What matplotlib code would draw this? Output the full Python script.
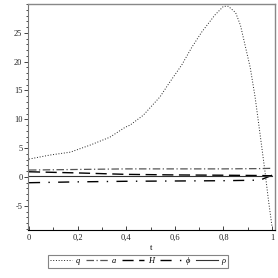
import matplotlib
matplotlib.use("Agg")
import matplotlib.pyplot as plt
from matplotlib.ticker import MultipleLocator, FuncFormatter

# ---- data ----
t_q = [0.0, 0.086, 0.17, 0.25, 0.333, 0.395, 0.416, 0.47, 0.539, 0.58, 0.628, 0.67, 0.71,
       0.765, 0.80, 0.82, 0.85, 0.87, 0.91, 0.93, 0.95, 0.97, 0.985, 1.0]
q   = [3.1, 3.8, 4.3, 5.5, 6.9, 8.6, 9.0, 10.7, 13.9, 16.5, 19.4, 22.5, 25.1,
       28.1, 29.6, 29.6, 28.5, 26.3, 19.0, 13.9, 7.6, 1.2, -4.0, -8.7]

t_s = [0.0, 0.2, 0.4, 0.6, 0.8, 0.95, 1.0]
a   = [1.2, 1.3, 1.4, 1.4, 1.4, 1.45, 1.5]
H   = [0.9, 0.7, 0.45, 0.35, 0.3, 0.25, 0.2]
phi = [-1.0, -0.85, -0.75, -0.7, -0.65, -0.55, 0.3]
rho = [0.1, 0.1, 0.1, 0.1, 0.1, 0.1, 0.1]

labels = ["q", "a", "H", "\u03d5", "\u03c1"]
xticks = [0, 0.2, 0.4, 0.6, 0.8, 1.0]
yticks = [-5, 0, 5, 10, 15, 20, 25]

plt.rcParams['font.family'] = ['Liberation Serif', 'DejaVu Serif']

fig = plt.figure(figsize=(2.78, 2.78), dpi=100)
ax = fig.add_axes([28/278, 1-230/278, (275-28)/278, (230-4)/278])

l1, = ax.plot(t_q, q, color='#222222', lw=0.7, ls=(0, (1, 1.8)))
l2, = ax.plot(t_s, a, color='#555555', lw=0.9, ls=(0, (6, 2, 1, 2)))
l3, = ax.plot(t_s, H, color='black', lw=1.0, ls=(0, (8, 4)))
l4, = ax.plot(t_s, phi, color='black', lw=1.0, ls=(0, (8, 6, 1, 6)))
l5, = ax.plot(t_s, rho, color='#333333', lw=0.8, ls='-')

ax.set_xlim(-0.004, 1.012)
ax.set_ylim(-9.2, 30.0)

ax.set_xticks(xticks)
ax.set_yticks(yticks)
ax.xaxis.set_minor_locator(MultipleLocator(0.1))
ax.yaxis.set_minor_locator(MultipleLocator(1))
fmt = FuncFormatter(lambda v, p: ("%g" % v).replace('.', ','))
ax.xaxis.set_major_formatter(fmt)
ax.yaxis.set_major_formatter(FuncFormatter(lambda v, p: "%d" % v))

ax.tick_params(axis='x', direction='in', length=3, width=0.6, labelsize=6, pad=3, colors='#222222')
ax.tick_params(axis='x', which='minor', direction='in', length=2, width=0.5)
ax.tick_params(axis='y', direction='out', length=3, width=0.6, labelsize=6, pad=1, colors='#222222')
ax.tick_params(axis='y', which='minor', direction='out', length=1.5, width=0.5)

for side in ['top', 'right']:
    ax.spines[side].set_color('#888888')
    ax.spines[side].set_linewidth(1.0)
ax.spines['left'].set_color('#777777')
ax.spines['bottom'].set_color('black')
ax.spines['left'].set_linewidth(0.8)
ax.spines['bottom'].set_linewidth(0.8)

ax.set_xlabel("t", fontsize=6, labelpad=1)

leg = fig.legend([l1, l2, l3, l4, l5], labels, loc='center', bbox_to_anchor=(138/278, 1-261/278),
                 ncol=5, frameon=True, fancybox=False, handlelength=2.6,
                 handletextpad=0.5, columnspacing=0.7, borderpad=0.3, prop={'style': 'italic', 'size': 6})
leg.get_frame().set_edgecolor('#666666')
leg.get_frame().set_linewidth(0.8)

fig.savefig("out.png", dpi=100)
